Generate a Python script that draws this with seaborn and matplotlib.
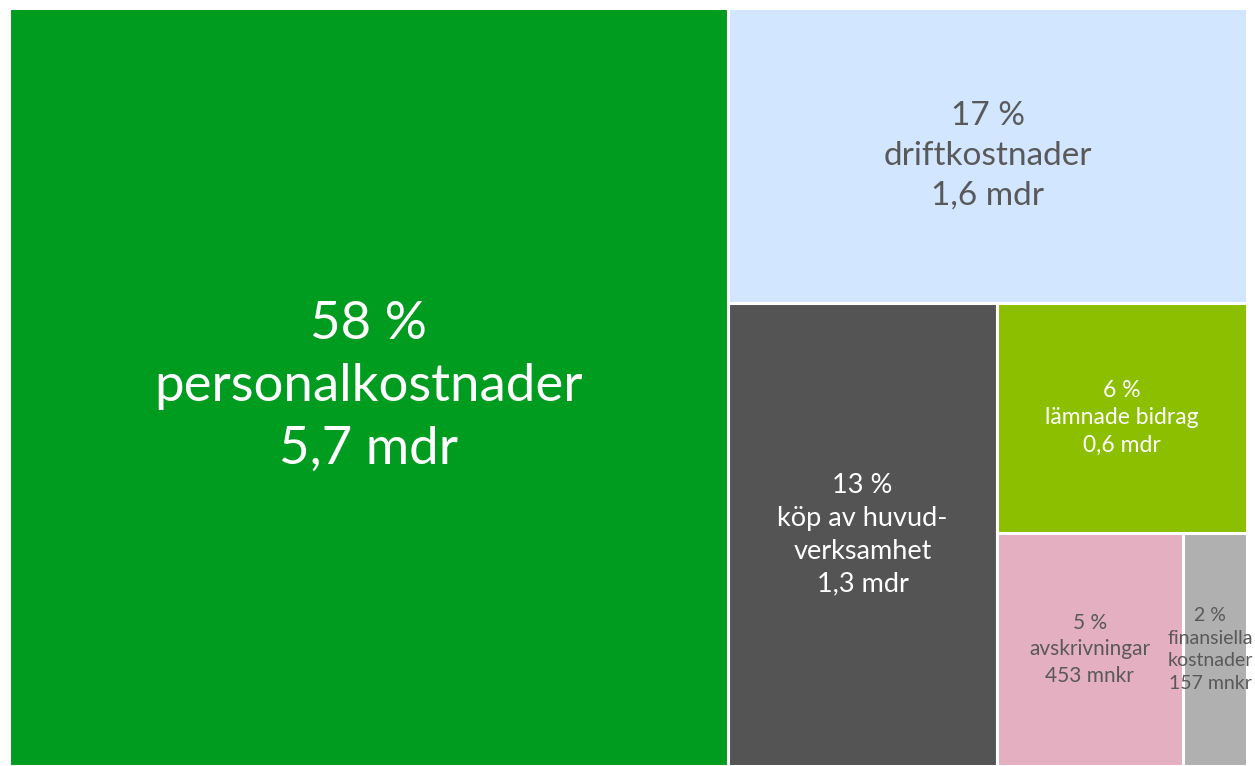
import matplotlib.pyplot as plt
import seaborn as sns

sns.set_style("white")
plt.rcParams['font.family'] = ['Lato', 'DejaVu Sans']

# --- Data (costs in mnkr) ---
categories = ["personalkostnader", "driftkostnader", "köp av huvud-\nverksamhet",
              "lämnade bidrag", "avskrivningar", "finansiella\nkostnader"]
values = [5700, 1600, 1300, 600, 453, 157]
shares = ["58 %", "17 %", "13 %", "6 %", "5 %", "2 %"]
amounts = ["5,7 mdr", "1,6 mdr", "1,3 mdr", "0,6 mdr", "453 mnkr", "157 mnkr"]

# --- Styles ---
colors = ["#009C1F", "#D2E6FF", "#545454", "#8CBF00", "#E4AFC0", "#B0B0B0"]
text_colors = ["white", "#595959", "white", "white", "#595959", "#595959"]
font_sizes = [38, 24, 19.5, 16.5, 15, 14]

W, H = 1238, 758  # plotting area in arbitrary units (same aspect as the axes)


def layout(vals, x, y, w, h):
    # slice one item at a time off the longer side of what is left
    rects = []
    rest = float(sum(vals))
    for v in vals:
        f = v / rest
        if w >= h:
            rects.append((x, y, w * f, h))
            x, w = x + w * f, w - w * f
        else:
            rects.append((x, y, w, h * f))
            y, h = y + h * f, h - h * f
        rest -= v
    return rects


rects = layout(values, 0, 0, W, H)

fig = plt.figure(figsize=(12.55, 7.66), dpi=100)
ax = fig.add_axes([9 / 1255, 0, 1238 / 1255, 758 / 766])

for (x, y, w, h), c in zip(rects, colors):
    ax.bar(x, h, width=w, bottom=y, align='edge', color=c,
           edgecolor='white', linewidth=2.2)

labels = []
for (x, y, w, h), name, sh, am, tc, fs in zip(rects, categories, shares, amounts,
                                              text_colors, font_sizes):
    t = ax.text(x + w / 2, y + h / 2, f"{sh}\n{name}\n{am}", ha='center', va='center',
                color=tc, fontsize=fs, linespacing=1.4, clip_on=False)
    labels.append(t)

ax.set_xlim(0, W)
ax.set_ylim(H, 0)
ax.axis('off')

# keep labels that overflow their box inside the figure
fig.canvas.draw()
renderer = fig.canvas.get_renderer()
fig_w = fig.bbox.width
for t in labels:
    bb = t.get_window_extent(renderer)
    over = bb.x1 - (fig_w - 2)
    if over > 0:
        px, py = ax.transData.transform(t.get_position())
        t.set_position(ax.transData.inverted().transform((px - over, py)))

plt.savefig("out.png", dpi=100, facecolor='white')
